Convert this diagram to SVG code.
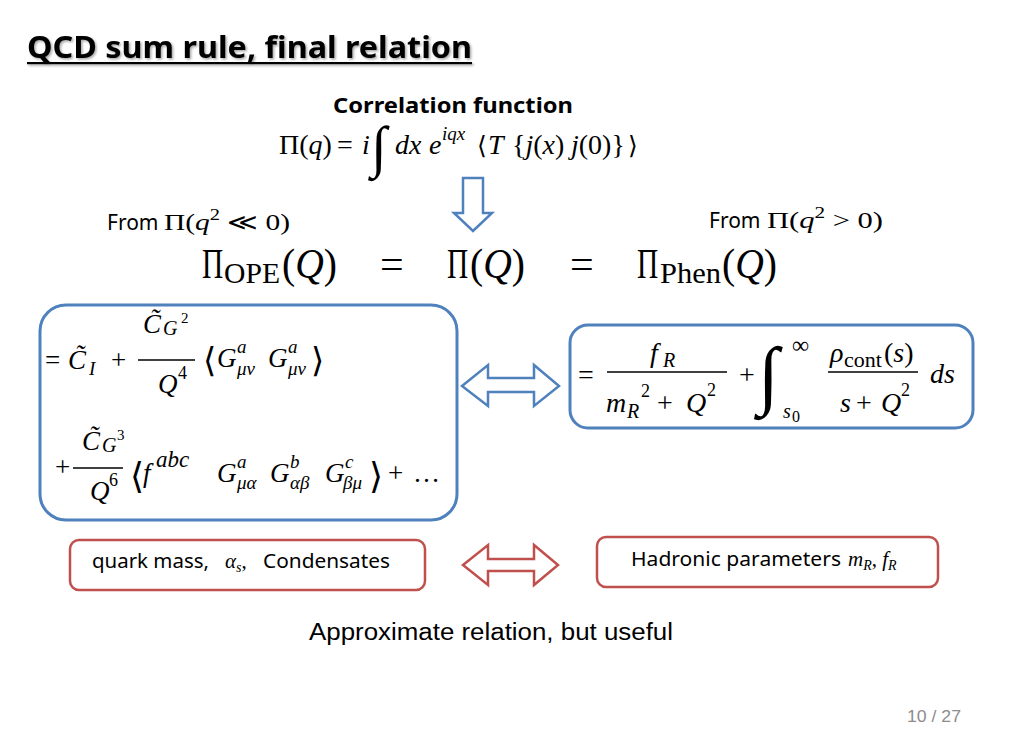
<svg xmlns="http://www.w3.org/2000/svg" width="1024" height="750" viewBox="0 0 1024 750">
<defs>
<style>
.m{font-family:"Liberation Serif","DejaVu Serif",serif;fill:#000}
.it{font-style:italic}
.up{font-style:normal}
.br{font-family:"DejaVu Serif",serif;fill:#000;font-style:normal}
.sans{font-family:"Noto Sans","Liberation Sans",sans-serif;fill:#000}
.bar{stroke:#000;stroke-width:1.3}
.bluebox{fill:none;stroke:#4F81BD;stroke-width:3}
.redbox{fill:none;stroke:#C0504D;stroke-width:2.5}
.barrow{fill:#fff;stroke:#4F81BD;stroke-width:2.5;stroke-linejoin:miter}
.rarrow{fill:#fff;stroke:#C0504D;stroke-width:2.5;stroke-linejoin:miter}
</style>
<filter id="sh" x="-5%" y="-20%" width="110%" height="140%">
<feDropShadow dx="1.5" dy="1.5" stdDeviation="0.8" flood-color="#000" flood-opacity="0.35"/>
</filter>
</defs>
<rect width="1024" height="750" fill="#fff"/>

<g id="title" filter="url(#sh)">
<text x="27" y="58" class="sans" font-size="31" font-weight="bold" textLength="445" lengthAdjust="spacingAndGlyphs">QCD sum rule, final relation</text>
<rect x="27" y="62" width="445" height="2.2" fill="#000"/>
</g>

<g id="correlation">
<text x="333" y="113" class="sans" font-size="22" font-weight="bold" textLength="240" lengthAdjust="spacingAndGlyphs">Correlation function</text>
<text class="m" font-size="28" y="154"><tspan x="279">Π(</tspan><tspan class="it">q</tspan><tspan>)</tspan><tspan x="337">=</tspan><tspan x="362" class="it">i</tspan><tspan x="371" y="166" font-size="57" class="it">∫</tspan><tspan x="395" y="154" class="it">dx</tspan><tspan x="429" class="it">e</tspan><tspan x="442" y="140" font-size="19" class="it">iqx</tspan><tspan x="477" y="154" class="br" font-size="25">⟨</tspan><tspan x="488" class="it">T</tspan><tspan x="512">{</tspan><tspan class="it">j</tspan><tspan>(</tspan><tspan class="it">x</tspan><tspan>)</tspan><tspan x="571" class="it">j</tspan><tspan>(0)}</tspan><tspan x="628" class="br" font-size="25">⟩</tspan></text>
</g>

<g id="from-left">
<text x="107" y="230" class="sans" font-size="21">From</text>
<text class="m" font-size="23" x="164" y="230" textLength="126" lengthAdjust="spacingAndGlyphs">Π(<tspan class="it">q</tspan><tspan dy="-10" font-size="16">2</tspan><tspan dy="10"> ≪ 0)</tspan></text>
</g>
<g id="from-right">
<text x="709" y="228" class="sans" font-size="21">From</text>
<text class="m" font-size="23" x="767" y="228" textLength="116" lengthAdjust="spacingAndGlyphs">Π(<tspan class="it">q</tspan><tspan dy="-10" font-size="16">2</tspan><tspan dy="10"> &gt; 0)</tspan></text>
</g>

<g id="main-relation">
<text class="m" font-size="42" transform="translate(202,278) scale(0.7,1)">Π</text>
<text x="224" y="283" class="m" font-size="29" textLength="56" lengthAdjust="spacingAndGlyphs">OPE</text>
<text x="282" y="278" class="m" font-size="42" textLength="55" lengthAdjust="spacingAndGlyphs">(<tspan class="it">Q</tspan>)</text>
<text x="380" y="278" class="m" font-size="42">=</text>
<text class="m" font-size="42" transform="translate(447,278) scale(0.7,1)">Π</text>
<text x="470" y="278" class="m" font-size="42" textLength="55" lengthAdjust="spacingAndGlyphs">(<tspan class="it">Q</tspan>)</text>
<text x="570" y="278" class="m" font-size="42">=</text>
<text class="m" font-size="42" transform="translate(637,278) scale(0.7,1)">Π</text>
<text x="660" y="283" class="m" font-size="29" textLength="61" lengthAdjust="spacingAndGlyphs">Phen</text>
<text x="722" y="278" class="m" font-size="42" textLength="55" lengthAdjust="spacingAndGlyphs">(<tspan class="it">Q</tspan>)</text>
</g>

<g id="ope-box">
<rect x="40" y="305" width="417" height="215" rx="26" class="bluebox"/>
<line x1="138" y1="360" x2="195" y2="360" class="bar"/>
<line x1="73" y1="468" x2="123" y2="468" class="bar"/>
<text class="m it" font-size="27">
<tspan x="45" y="369" class="up">=</tspan>
<tspan x="68" y="369">C&#x303;</tspan><tspan x="89" y="375" font-size="19">I</tspan>
<tspan x="111" y="369" class="up">+</tspan>
<tspan x="143" y="333">C&#x303;</tspan><tspan x="163" y="335" font-size="20">G</tspan><tspan x="181" y="323" class="up" font-size="15">2</tspan>
<tspan x="158" y="393">Q</tspan><tspan x="178" y="379" class="up" font-size="18">4</tspan>
<tspan x="203" y="372" class="br" font-size="34">⟨</tspan>
<tspan x="217" y="367">G</tspan><tspan x="237" y="353" font-size="19">a</tspan><tspan x="237" y="375" font-size="19">μν</tspan>
<tspan x="268" y="367">G</tspan><tspan x="288" y="353" font-size="19">a</tspan><tspan x="288" y="375" font-size="19">μν</tspan>
<tspan x="311" y="372" class="br" font-size="34">⟩</tspan>
</text>
<text class="m it" font-size="27">
<tspan x="55" y="476" class="up">+</tspan>
<tspan x="82" y="450">C&#x303;</tspan><tspan x="102" y="452" font-size="20">G</tspan><tspan x="117" y="440" class="up" font-size="15">3</tspan>
<tspan x="90" y="500">Q</tspan><tspan x="109" y="486" class="up" font-size="18">6</tspan>
<tspan x="130" y="488" class="br" font-size="36">⟨</tspan>
<tspan x="143" y="482">f</tspan><tspan x="156" y="467" font-size="23">abc</tspan>
<tspan x="217" y="482">G</tspan><tspan x="237" y="468" font-size="19">a</tspan><tspan x="237" y="489" font-size="19">μα</tspan>
<tspan x="270" y="482">G</tspan><tspan x="290" y="468" font-size="19">b</tspan><tspan x="290" y="489" font-size="19">αβ</tspan>
<tspan x="325" y="482">G</tspan><tspan x="345" y="468" font-size="19">c</tspan><tspan x="343" y="489" font-size="19">βμ</tspan>
<tspan x="369" y="488" class="br" font-size="36">⟩</tspan>
<tspan x="388" y="482" class="up">+</tspan>
<tspan x="413" y="482" class="up">…</tspan>
</text>
</g>

<g id="phen-box">
<rect x="570" y="325" width="403" height="103" rx="18" class="bluebox"/>
<line x1="607" y1="372" x2="727" y2="372" class="bar"/>
<line x1="828" y1="372" x2="918" y2="372" class="bar"/>
<text class="m it" font-size="28">
<tspan x="578" y="384" class="up">=</tspan>
<tspan x="650" y="362">f</tspan><tspan x="663" y="367" font-size="20">R</tspan>
<tspan x="606" y="412">m</tspan><tspan x="627" y="418" font-size="20">R</tspan><tspan x="641" y="397" class="up" font-size="18">2</tspan>
<tspan x="657" y="412" class="up">+</tspan>
<tspan x="686" y="412">Q</tspan><tspan x="707" y="396" class="up" font-size="18">2</tspan>
<tspan x="739" y="384" class="up">+</tspan>
<tspan x="758" y="400" font-size="76">∫</tspan>
<tspan x="792" y="353" class="up" font-size="24">∞</tspan>
<tspan x="783" y="418" font-size="20">s</tspan><tspan x="792" y="422" class="up" font-size="16">0</tspan>
<tspan x="830" y="362">ρ</tspan><tspan x="844" y="367" class="up" font-size="22">cont</tspan><tspan x="884" y="362" class="up">(</tspan><tspan>s</tspan><tspan class="up">)</tspan>
<tspan x="840" y="412">s</tspan><tspan x="856" y="412" class="up">+</tspan><tspan x="881" y="412">Q</tspan><tspan x="901" y="396" class="up" font-size="18">2</tspan>
<tspan x="930" y="383">ds</tspan>
</text>
</g>

<g id="qcd-params">
<rect x="70" y="540" width="355" height="50" rx="9" class="redbox"/>
<text x="92" y="568" class="sans" font-size="19" textLength="117" lengthAdjust="spacingAndGlyphs">quark mass,</text>
<text x="225" y="568" class="m it" font-size="21">α<tspan font-size="14" dy="4">s</tspan><tspan dy="-4" class="up">,</tspan></text>
<text x="263" y="568" class="sans" font-size="19" textLength="127" lengthAdjust="spacingAndGlyphs">Condensates</text>
</g>

<g id="hadronic-params">
<rect x="597" y="537" width="341" height="50" rx="9" class="redbox"/>
<text x="631" y="566" class="sans" font-size="19" textLength="210" lengthAdjust="spacingAndGlyphs">Hadronic parameters</text>
<text x="848" y="566" class="m it" font-size="21">m<tspan font-size="14" dy="4">R</tspan><tspan dy="-4" class="up">, </tspan>f<tspan font-size="14" dy="4">R</tspan></text>
</g>

<g id="connectors">
<path class="barrow" d="M463,178 H483 V213 H492 L473,231 L454,213 H463 Z"/>
<path class="barrow" d="M462,386 L488,365 V378 H534 V365 L559,386 L534,406 V392 H488 V406 Z"/>
<path class="rarrow" d="M463,565 L488,545 V559 H534 V545 L558,565 L534,585 V571 H488 V585 Z"/>
</g>

<text x="309" y="640" font-family="Liberation Sans, sans-serif" font-size="23" fill="#000" textLength="364" lengthAdjust="spacingAndGlyphs">Approximate relation, but useful</text>

<text x="907" y="722" font-family="Liberation Sans, sans-serif" font-size="16" fill="#8C8C8C" textLength="54" lengthAdjust="spacingAndGlyphs">10 / 27</text>
</svg>
